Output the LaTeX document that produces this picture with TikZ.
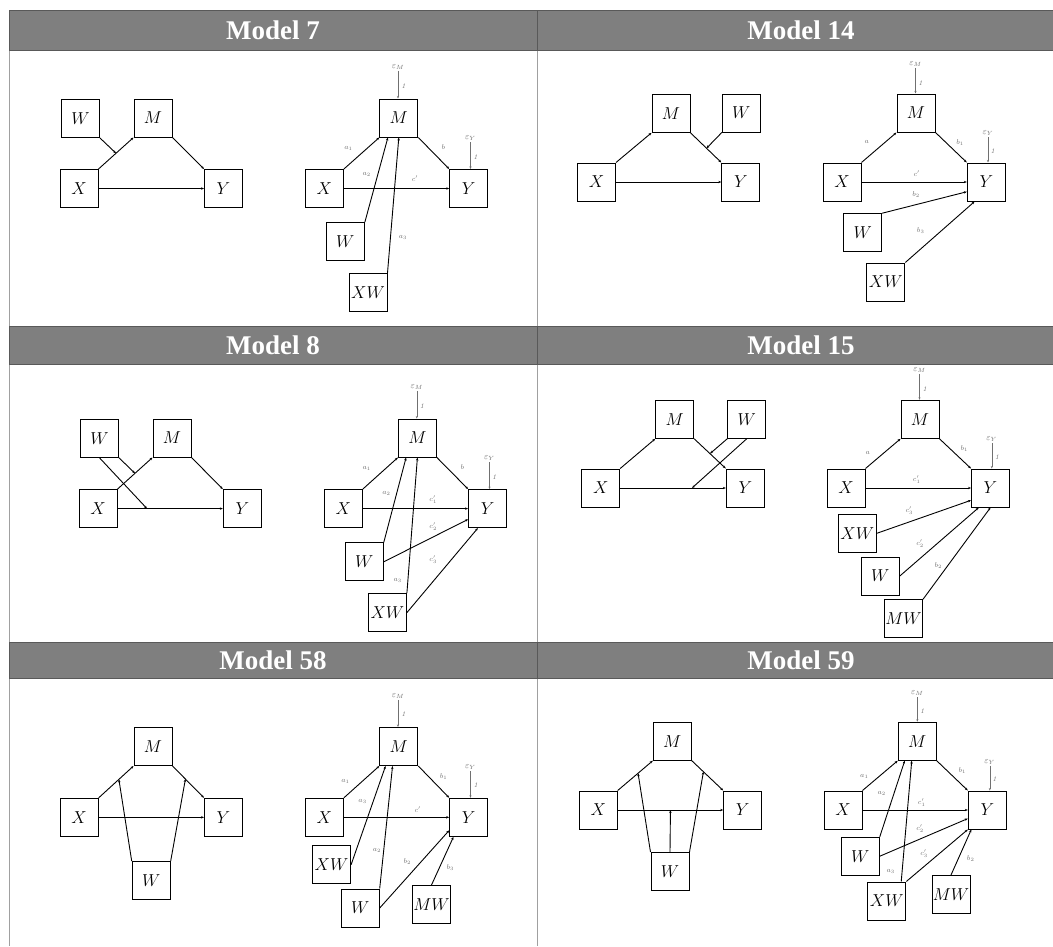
\documentclass[tikz,border=0pt]{standalone}
\usepackage{fontspec}
\newfontfamily\titlefont{Liberation Serif}
\usetikzlibrary{arrows.meta,calc}
\definecolor{hdr}{HTML}{7F7F7F}
\definecolor{rulec}{HTML}{A0A0A0}
\definecolor{lab}{HTML}{707070}
\begin{document}
\begin{tikzpicture}[x=1pt,y=-1pt,
  bx/.style={draw, line width=1pt, minimum size=38pt, inner sep=0pt, font=\fontsize{18}{18}\selectfont},
  ar/.style={line width=0.9pt, -{Stealth[length=3pt,width=2.4pt]}},
  er/.style={line width=0.5pt, draw=lab, -{Stealth[length=2.5pt,width=2pt]}},
  lb/.style={inner sep=0pt, text=lab, font=\fontsize{7}{7}\selectfont},
  ep/.style={inner sep=1.2pt, text=lab, font=\fontsize{9}{9}\selectfont},
  hd/.style={fill=hdr, draw=hdr!70!black, line width=0.6pt},
  ht/.style={text=white, font=\titlefont\bfseries\fontsize{27}{27}\selectfont}]
\useasboundingbox (0,0) rectangle (1053,946);
\fill[white] (0,0) rectangle (1053,946);
% table rules
\draw[rulec, line width=0.8pt] (9,10) -- (9,946);
\draw[rulec, line width=0.8pt] (537,10) -- (537,946);
% headers
\draw[hd] (9,10) rectangle (537,50);
\draw[hd] (537,10) rectangle (1070,50);
\draw[hd] (9,326) rectangle (537,364);
\draw[hd] (537,326) rectangle (1070,364);
\draw[hd] (9,642) rectangle (537,678);
\draw[hd] (537,642) rectangle (1070,678);
\node[ht] (t7) at (273,30) {Model 7};
\node[ht] (t14) at (801,30) {Model 14};
\node[ht] (t8) at (273,345) {Model 8};
\node[ht] (t15) at (801,345) {Model 15};
\node[ht] (t58) at (273,660) {Model 58};
\node[ht] (t59) at (801,660) {Model 59};

%================ Model 7 left
\node[bx] (W7) at (80.5,118.5) {$W$};
\node[bx] (M7) at (153,118) {$M$};
\node[bx] (X7) at (79,188.5) {$X$};
\node[bx] (Y7) at (223.5,188.5) {$Y$};
\draw[ar] (X7.north east) -- (M7.south west);
\draw[ar] (M7.south east) -- (Y7.north west);
\draw[ar] (X7) -- (Y7);
\coordinate (p7) at ($(X7.north east)!0.5!(M7.south west)$);
\draw[ar] (W7.south east) -- (p7);

%================ Model 7 right
\node[bx] (M7r) at (398.8,118) {$M$};
\node[bx] (X7r) at (324.4,188.5) {$X$};
\node[bx] (Y7r) at (468.7,188.5) {$Y$};
\node[bx] (W7r) at (345.4,241.5) {$W$};
\node[bx] (XW7r) at (368,292.5) {$XW$};
\node[ep] (eM7) at (398,67) {$\varepsilon_M$};
\node[ep] (eY7) at (470.5,138.4) {$\varepsilon_Y$};
\draw[er] (eM7.south) -- (eM7.south |- M7r.north);
\draw[er] (eY7.south) -- (eY7.south |- Y7r.north);
\node[lb] (o7a) at (403.5,86) {\textit{1}};
\node[lb] (o7b) at (475.5,156.7) {\textit{1}};
\draw[ar] (X7r.north east) -- (M7r.south west);
\draw[ar] (M7r.south east) -- (Y7r.north west);
\draw[ar] (X7r) -- (Y7r);
\draw[ar] (W7r.north east) -- ($(M7r.south west)!0.22!(M7r.south east)$);
\draw[ar] (XW7r.north east) -- (M7r.south);
\node[lb] (l7a) at (348.5,148) {$a_1$};
\node[lb] (l7b) at (443.5,147.4) {$b$};
\node[lb] (l7c) at (415,179) {$c'$};
\node[lb] (l7d) at (366.7,174) {$a_2$};
\node[lb] (l7e) at (403,237.6) {$a_3$};

%================ Model 14 left
\node[bx] (M14) at (671,113.3) {$M$};
\node[bx] (W14) at (741.3,113) {$W$};
\node[bx] (X14) at (596.5,182) {$X$};
\node[bx] (Y14) at (740.8,182) {$Y$};
\draw[ar] (X14.north east) -- (M14.south west);
\draw[ar] (M14.south east) -- (Y14.north west);
\draw[ar] (X14) -- (Y14);
\coordinate (p14) at ($(M14.south east)!0.52!(Y14.north west)$);
\draw[ar] (W14.south west) -- (p14);

%================ Model 14 right
\node[bx] (M14r) at (916,113) {$M$};
\node[bx] (X14r) at (842,182) {$X$};
\node[bx] (Y14r) at (986.3,182) {$Y$};
\node[bx] (W14r) at (862.7,232.7) {$W$};
\node[bx] (XW14r) at (885.8,282) {$XW$};
\node[ep] (eM14) at (915.5,64) {$\varepsilon_M$};
\node[ep] (eY14) at (988,133.3) {$\varepsilon_Y$};
\draw[er] (eM14.south) -- (eM14.south |- M14r.north);
\draw[er] (eY14.south) -- (eY14.south |- Y14r.north);
\node[lb] (o14a) at (920.5,82.7) {\textit{1}};
\node[lb] (o14b) at (992.8,150.7) {\textit{1}};
\draw[ar] (X14r.north east) -- (M14r.south west);
\draw[ar] (M14r.south east) -- (Y14r.north west);
\draw[ar] (X14r) -- (Y14r);
\draw[ar] (W14r.north east) -- ($(Y14r.west)!0.5!(Y14r.south west)$);
\draw[ar] (XW14r.north east) -- ($(Y14r.south west)!0.2!(Y14r.south east)$);
\node[lb] (l14a) at (866.7,141.7) {$a$};
\node[lb] (l14b) at (960,142.7) {$b_1$};
\node[lb] (l14c) at (916.7,174) {$c'$};
\node[lb] (l14d) at (916,194.3) {$b_2$};
\node[lb] (l14e) at (920.7,230.7) {$b_3$};

%================ Model 8 left
\node[bx] (W8) at (99.5,438.3) {$W$};
\node[bx] (M8) at (172,438) {$M$};
\node[bx] (X8) at (98,508.6) {$X$};
\node[bx] (Y8) at (242.3,508.6) {$Y$};
\draw[ar] (X8.north east) -- (M8.south west);
\draw[ar] (M8.south east) -- (Y8.north west);
\draw[ar] (X8) -- (Y8);
\coordinate (p8a) at ($(X8.north east)!0.5!(M8.south west)$);
\coordinate (p8b) at ($(X8.east)!0.28!(Y8.west)$);
\draw[ar] (W8.south east) -- (p8a);
\draw[ar] (W8.south) -- (p8b);

%================ Model 8 right
\node[bx] (M8r) at (417.4,438) {$M$};
\node[bx] (X8r) at (343.3,508.6) {$X$};
\node[bx] (Y8r) at (487.6,508.6) {$Y$};
\node[bx] (W8r) at (364.3,561.8) {$W$};
\node[bx] (XW8r) at (387.4,612.6) {$XW$};
\node[ep] (eM8) at (416.8,387.1) {$\varepsilon_M$};
\node[ep] (eY8) at (489.5,458.4) {$\varepsilon_Y$};
\draw[er] (eM8.south) -- (eM8.south |- M8r.north);
\draw[er] (eY8.south) -- (eY8.south |- Y8r.north);
\node[lb] (o8a) at (422,406) {\textit{1}};
\node[lb] (o8b) at (494.3,476.7) {\textit{1}};
\draw[ar] (X8r.north east) -- (M8r.south west);
\draw[ar] (M8r.south east) -- (Y8r.north west);
\draw[ar] (X8r) -- (Y8r);
\draw[ar] (W8r.north east) -- ($(M8r.south west)!0.21!(M8r.south east)$);
\draw[ar] (XW8r.north east) -- (M8r.south);
\draw[ar] (W8r.east) -- ($(Y8r.west)!0.55!(Y8r.south west)$);
\draw[ar] (XW8r.east) -- ($(Y8r.south west)!0.25!(Y8r.south east)$);
\node[lb] (l8a) at (366.7,468) {$a_1$};
\node[lb] (l8b) at (462.5,467.4) {$b$};
\node[lb] (l8c) at (386.4,493.9) {$a_2$};
\node[lb] (l8d) at (433.2,499.8) {$c'_1$};
\node[lb] (l8e) at (433.2,526.6) {$c'_2$};
\node[lb] (l8f) at (433.2,559.3) {$c'_3$};
\node[lb] (l8g) at (397.7,580.7) {$a_3$};

%================ Model 15 left
\node[bx] (M15) at (674.7,419.3) {$M$};
\node[bx] (W15) at (746.7,419.3) {$W$};
\node[bx] (X15) at (600.7,488) {$X$};
\node[bx] (Y15) at (745.3,488) {$Y$};
\draw[ar] (X15.north east) -- (M15.south west);
\draw[ar] (M15.south east) -- (Y15.north west);
\draw[ar] (X15) -- (Y15);
\coordinate (p15a) at ($(M15.south east)!0.5!(Y15.north west)$);
\coordinate (p15b) at ($(X15.east)!0.68!(Y15.west)$);
\draw[ar] (W15.south west) -- (p15a);
\draw[ar] (W15.south) -- (p15b);

%================ Model 15 right
\node[bx] (M15r) at (920,419.3) {$M$};
\node[bx] (X15r) at (846,488) {$X$};
\node[bx] (Y15r) at (990.5,488) {$Y$};
\node[bx] (XW15r) at (857.3,533.3) {$XW$};
\node[bx] (W15r) at (880.3,576) {$W$};
\node[bx] (MW15r) at (903.5,618.8) {$MW$};
\node[ep] (eM15) at (919.5,370) {$\varepsilon_M$};
\node[ep] (eY15) at (991.8,439) {$\varepsilon_Y$};
\draw[er] (eM15.south) -- (eM15.south |- M15r.north);
\draw[er] (eY15.south) -- (eY15.south |- Y15r.north);
\node[lb] (o15a) at (924.8,389.3) {\textit{1}};
\node[lb] (o15b) at (997,456.7) {\textit{1}};
\draw[ar] (X15r.north east) -- (M15r.south west);
\draw[ar] (M15r.south east) -- (Y15r.north west);
\draw[ar] (X15r) -- (Y15r);
\draw[ar] (XW15r.east) -- ($(Y15r.west)!0.63!(Y15r.south west)$);
\draw[ar] (W15r.east) -- ($(Y15r.south west)!0.2!(Y15r.south east)$);
\draw[ar] (MW15r.north east) -- (Y15r.south);
\node[lb] (l15a) at (867.7,453.3) {$a$};
\node[lb] (l15b) at (964.3,448.3) {$b_1$};
\node[lb] (l15c) at (916.7,480) {$c'_1$};
\node[lb] (l15d) at (909.3,510.7) {$c'_3$};
\node[lb] (l15e) at (920,543.3) {$c'_2$};
\node[lb] (l15f) at (938.3,566) {$b_2$};

%================ Model 58 left
\node[bx] (M58) at (153,746.5) {$M$};
\node[bx] (X58) at (79.2,817.3) {$X$};
\node[bx] (Y58) at (223.5,817.3) {$Y$};
\node[bx] (W58) at (151.2,880.5) {$W$};
\draw[ar] (X58.north east) -- (M58.south west);
\draw[ar] (M58.south east) -- (Y58.north west);
\draw[ar] (X58) -- (Y58);
\coordinate (p58a) at ($(X58.north east)!0.58!(M58.south west)$);
\coordinate (p58b) at ($(M58.south east)!0.41!(Y58.north west)$);
\draw[ar] (W58.north west) -- (p58a);
\draw[ar] (W58.north east) -- (p58b);

%================ Model 58 right
\node[bx] (M58r) at (398.8,746.5) {$M$};
\node[bx] (X58r) at (324.4,817.3) {$X$};
\node[bx] (Y58r) at (468.7,817.3) {$Y$};
\node[bx] (XW58r) at (331.6,864.7) {$XW$};
\node[bx] (W58r) at (360.2,908) {$W$};
\node[bx] (MW58r) at (431.5,904.5) {$MW$};
\node[ep] (eM58) at (398,696.1) {$\varepsilon_M$};
\node[ep] (eY58) at (470.5,767.4) {$\varepsilon_Y$};
\draw[er] (eM58.south) -- (eM58.south |- M58r.north);
\draw[er] (eY58.south) -- (eY58.south |- Y58r.north);
\node[lb] (o58a) at (403.5,714.4) {\textit{1}};
\node[lb] (o58b) at (475.7,785.3) {\textit{1}};
\draw[ar] (X58r.north east) -- (M58r.south west);
\draw[ar] (M58r.south east) -- (Y58r.north west);
\draw[ar] (X58r) -- (Y58r);
\draw[ar] (XW58r.east) -- ($(M58r.south west)!0.16!(M58r.south east)$);
\draw[ar] (W58r.north east) -- ($(M58r.south west)!0.34!(M58r.south east)$);
\draw[ar] (W58r.east) -- ($(Y58r.west)!0.67!(Y58r.south west)$);
\draw[ar] (MW58r.north) -- ($(Y58r.south west)!0.11!(Y58r.south east)$);
\node[lb] (l58a) at (345.4,781.9) {$a_1$};
\node[lb] (l58b) at (443.5,777) {$b_1$};
\node[lb] (l58c) at (362.6,801.8) {$a_3$};
\node[lb] (l58d) at (417.7,809.8) {$c'$};
\node[lb] (l58e) at (377,850.7) {$a_2$};
\node[lb] (l58f) at (407.4,861.4) {$b_2$};
\node[lb] (l58g) at (450.4,868) {$b_3$};

%================ Model 59 left
\node[bx] (M59) at (672.3,741.2) {$M$};
\node[bx] (X59) at (598.2,810) {$X$};
\node[bx] (Y59) at (742.7,810) {$Y$};
\node[bx] (W59) at (670,871.5) {$W$};
\draw[ar] (X59.north east) -- (M59.south west);
\draw[ar] (M59.south east) -- (Y59.north west);
\draw[ar] (X59) -- (Y59);
\coordinate (p59a) at ($(X59.north east)!0.58!(M59.south west)$);
\coordinate (p59b) at ($(M59.south east)!0.37!(Y59.north west)$);
\coordinate (p59c) at ($(X59.east)!0.5!(Y59.west)$);
\draw[ar] (W59.north west) -- (p59a);
\draw[ar] (W59.north east) -- (p59b);
\draw[ar] (W59.north) -- (p59c);

%================ Model 59 right
\node[bx] (M59r) at (917.2,741.2) {$M$};
\node[bx] (X59r) at (843,810) {$X$};
\node[bx] (Y59r) at (987.3,810) {$Y$};
\node[bx] (W59r) at (860.3,856.2) {$W$};
\node[bx] (XW59r) at (886.8,901) {$XW$};
\node[bx] (MW59r) at (951,894.5) {$MW$};
\node[ep] (eM59) at (917.3,693.3) {$\varepsilon_M$};
\node[ep] (eY59) at (989.8,761.7) {$\varepsilon_Y$};
\draw[er] (eM59.south) -- (eM59.south |- M59r.north);
\draw[er] (eY59.south) -- (eY59.south |- Y59r.north);
\node[lb] (o59a) at (922.2,711) {\textit{1}};
\node[lb] (o59b) at (994.5,779.3) {\textit{1}};
\draw[ar] (X59r.north east) -- (M59r.south west);
\draw[ar] (M59r.south east) -- (Y59r.north west);
\draw[ar] (X59r) -- (Y59r);
\draw[ar] (W59r.north east) -- ($(M59r.south west)!0.18!(M59r.south east)$);
\draw[ar] ($(XW59r.north west)!0.87!(XW59r.north east)$) -- ($(M59r.south west)!0.36!(M59r.south east)$);
\draw[ar] (W59r.east) -- ($(Y59r.west)!0.44!(Y59r.south west)$);
\draw[ar] (XW59r.north east) -- (Y59r.south west);
\draw[ar] (MW59r.north) -- ($(Y59r.south west)!0.09!(Y59r.south east)$);
\node[lb] (l59a) at (864.3,776) {$a_1$};
\node[lb] (l59b) at (962.3,770.7) {$b_1$};
\node[lb] (l59c) at (881.7,793.3) {$a_2$};
\node[lb] (l59d) at (921.7,802.7) {$c'_1$};
\node[lb] (l59e) at (920,828.3) {$c'_2$};
\node[lb] (l59f) at (924,853.3) {$c'_3$};
\node[lb] (l59g) at (970.7,859) {$b_2$};
\node[lb] (l59h) at (890.7,871.7) {$a_3$};
\end{tikzpicture}
\end{document}
